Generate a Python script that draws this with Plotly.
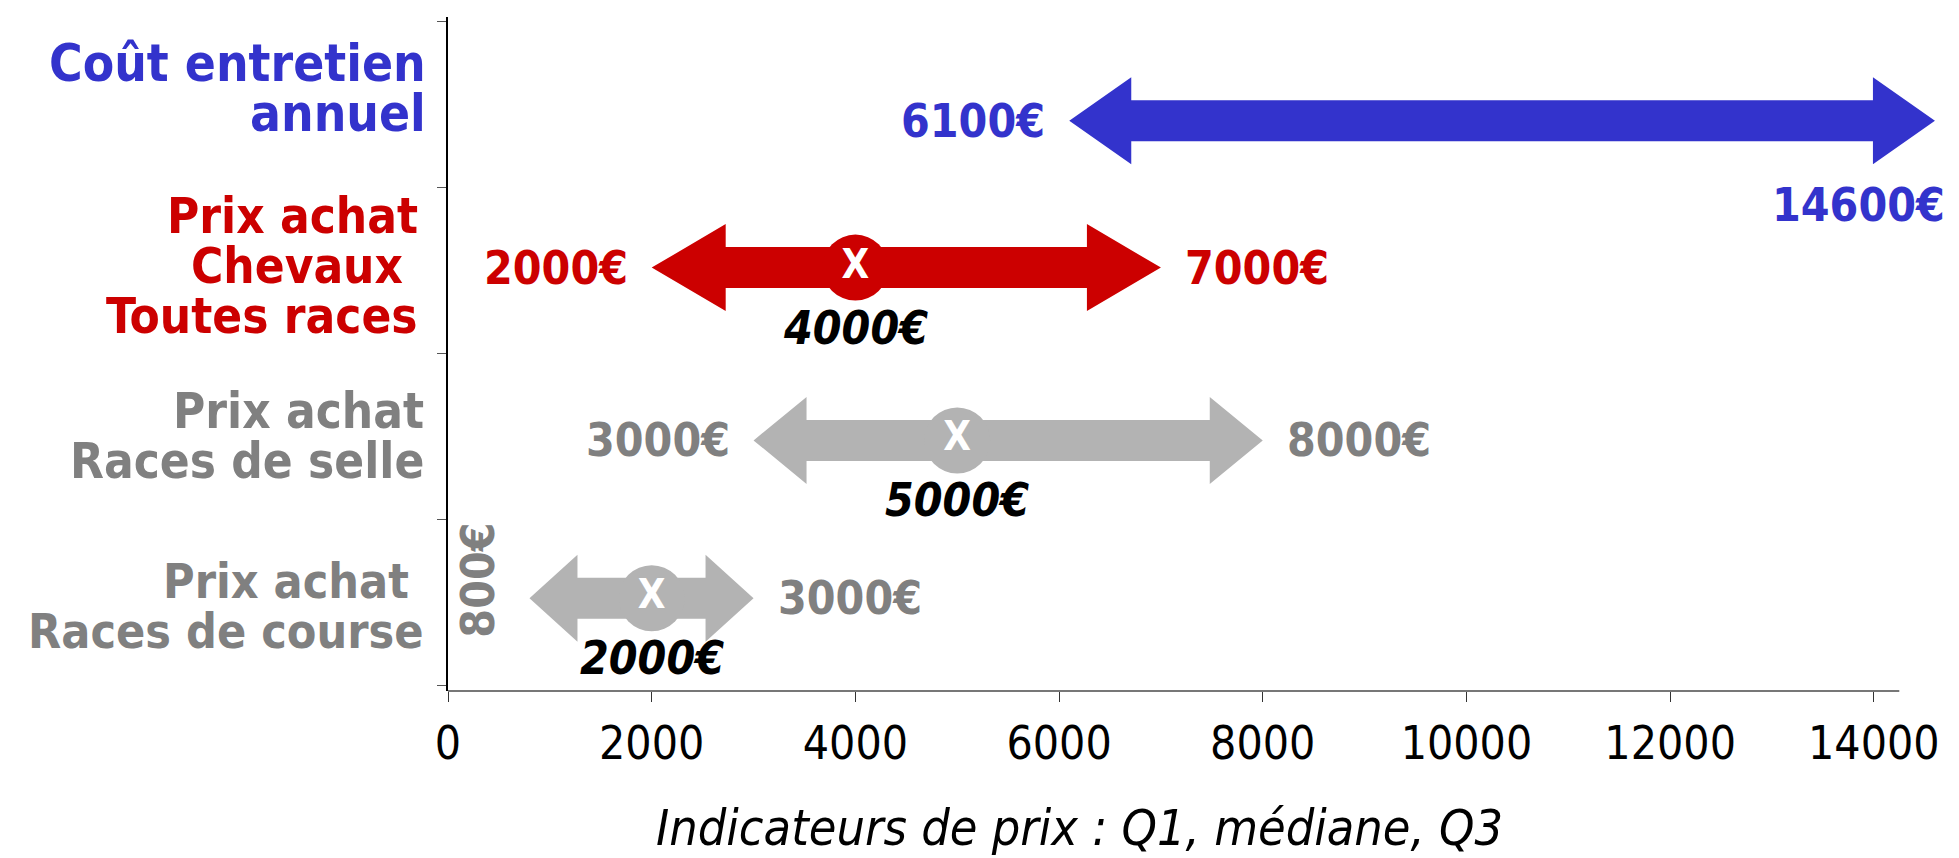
import plotly.graph_objects as go

# ---------------- data ----------------
categories = ["Prix achat \nRaces de course", "Prix achat\nRaces de selle",
              "Prix achat\nChevaux \nToutes races", "Coût entretien\nannuel"]
q1_values = [800, 3000, 2000, 6100]
median_values = [2000, 5000, 4000, None]
q3_values = [3000, 8000, 7000, 14600]
x_tick_values = [0, 2000, 4000, 6000, 8000, 10000, 12000, 14000]
x_title = "Indicateurs de prix : Q1, médiane, Q3"

# ---------------- style ----------------
arrow_colors = ["#B3B3B3", "#B3B3B3", "#CC0000", "#3333CC"]
text_colors = ["#808080", "#808080", "#CC0000", "#3333CC"]
head_len_px = [48, 53, 74, 62]
arrow_shift_px = [4, -4, 3, -16]
label_shift_px = [-4, 0, 4, 16]
label_xshift_px = [-22, -22, -28, -20]
label_size = [48, 49, 49, 51]
FONT = "DejaVu Sans Condensed"
W, H = 1959, 858
ML, MR, MT, MB = 440, 29, 9, 175
XMAX = 14630
YR = [-0.536, 3.530]
AXIS_END = 14250
HEAD_HALF, SHAFT_HALF = 43.5, 20.5
LINE_GAP = 50
LBL = 46

pw = W - ML - MR
ph = H - MT - MB
kx = pw / XMAX
ky = ph / (YR[1] - YR[0])

fig = go.Figure()
annotations = []

for i, cat in enumerate(categories):
    yc = i + arrow_shift_px[i] / ky
    a, b = q1_values[i], q3_values[i]
    hl = head_len_px[i] / kx
    hh, sh = HEAD_HALF / ky, SHAFT_HALF / ky
    xs = [a, a + hl, a + hl, b - hl, b - hl, b, b - hl, b - hl, a + hl, a + hl, a]
    ys = [yc, yc + hh, yc + sh, yc + sh, yc + hh, yc, yc - hh, yc - sh, yc - sh, yc - hh, yc]
    fig.add_trace(go.Scatter(x=xs, y=ys, fill="toself", fillcolor=arrow_colors[i],
                             mode="lines", line=dict(width=0), hoverinfo="skip",
                             showlegend=False))
    m = median_values[i]
    if m is not None:
        fig.add_trace(go.Scatter(x=[m], y=[yc], mode="markers+text", text=["X"],
                                 textposition="middle center",
                                 textfont=dict(family=FONT, size=40, color="white", weight="bold"),
                                 marker=dict(size=66, color=arrow_colors[i]),
                                 hoverinfo="skip", showlegend=False, cliponaxis=False))
        annotations.append(dict(x=m, y=i, xref="x", yref="y", yshift=arrow_shift_px[i] - 60,
                                text=f"{m}€", showarrow=False, xanchor="center", yanchor="middle",
                                font=dict(family=FONT, size=LBL, color="black",
                                          weight="bold", style="italic")))
    # Q1 label
    if i == 0:
        annotations.append(dict(x=a, y=i, xref="x", yref="y", yshift=arrow_shift_px[i] + 18,
                                xshift=-22, text=f"{a}€", showarrow=False, textangle=-90,
                                xanchor="right", yanchor="middle",
                                font=dict(family=FONT, size=LBL, color=text_colors[i], weight="bold")))
    else:
        annotations.append(dict(x=a, y=i, xref="x", yref="y", yshift=arrow_shift_px[i],
                                xshift=-22, text=f"{a}€", showarrow=False,
                                xanchor="right", yanchor="middle",
                                font=dict(family=FONT, size=LBL, color=text_colors[i], weight="bold")))
    # Q3 label
    if i == 3:
        annotations.append(dict(x=b, y=i, xref="x", yref="y", yshift=arrow_shift_px[i] - 84,
                                xshift=12, text=f"{b}€", showarrow=False,
                                xanchor="right", yanchor="middle",
                                font=dict(family=FONT, size=LBL, color=text_colors[i], weight="bold")))
    else:
        annotations.append(dict(x=b, y=i, xref="x", yref="y", yshift=arrow_shift_px[i],
                                xshift=22, text=f"{b}€", showarrow=False,
                                xanchor="left", yanchor="middle",
                                font=dict(family=FONT, size=LBL, color=text_colors[i], weight="bold")))
    # category label, line by line
    lines = cat.split("\n")
    n = len(lines)
    for j, ln in enumerate(lines):
        annotations.append(dict(x=0, y=i, xref="paper", yref="y", xshift=label_xshift_px[i],
                                yshift=label_shift_px[i] + ((n - 1) / 2 - j) * LINE_GAP,
                                text=ln.replace(" ", "&nbsp;") if ln.endswith(" ") else ln,
                                showarrow=False, xanchor="right", yanchor="middle",
                                font=dict(family=FONT, size=label_size[i],
                                          color=text_colors[i], weight="bold")))

annotations.append(dict(x=0.424, y=-0.2033, xref="paper", yref="paper", text=x_title,
                        showarrow=False, xanchor="center", yanchor="middle",
                        font=dict(family=FONT, size=50, color="black", style="italic")))

fig.update_layout(
    width=W, height=H,
    margin=dict(l=ML, r=MR, t=MT, b=MB),
    paper_bgcolor="white", plot_bgcolor="white",
    annotations=annotations,
    shapes=[dict(type="line", xref="x", yref="paper", x0=0, x1=AXIS_END, y0=0, y1=0,
                 line=dict(color="#777777", width=2))],
    xaxis=dict(range=[0, XMAX], showline=False, showgrid=False, zeroline=False,
               tickvals=x_tick_values, ticktext=[str(v) for v in x_tick_values],
               ticks="outside", ticklen=10, tickcolor="#333333", tickwidth=1,
               ticklabelstandoff=2,
               tickfont=dict(family=FONT, size=46, color="black")),
    yaxis=dict(range=YR, showline=True, linecolor="black", linewidth=1.5,
               showgrid=False, zeroline=False,
               tickvals=[-0.5, 0.5, 1.5, 2.5, 3.5], ticktext=[""] * 5,
               ticks="outside", ticklen=9, tickcolor="#555555"),
)

fig.write_html("out.html")
